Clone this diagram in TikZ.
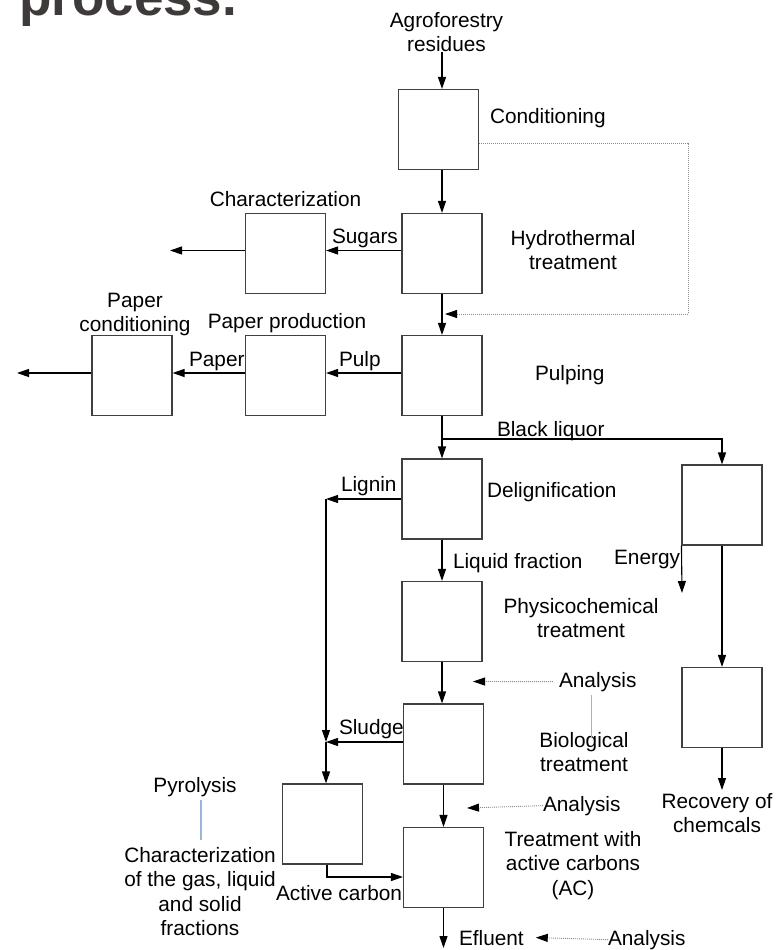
\documentclass[tikz,border=0pt]{standalone}
\usepackage{fontspec}
\setmainfont{Liberation Sans}
\usetikzlibrary{calc, positioning}
\usetikzlibrary{arrows.meta}

\definecolor{boxgray}{HTML}{404040}
\definecolor{titlegray}{HTML}{3D3A39}
\definecolor{dotgray}{HTML}{8C8C8C}
\definecolor{linkblue}{HTML}{9BB5DA}

\begin{document}
\begin{tikzpicture}[x=1pt,y=-1pt,
    unit/.style={draw=boxgray, line width=1.1pt, minimum width=80pt, minimum height=80pt, inner sep=0pt},
    lbl/.style={inner sep=0pt, outer sep=0pt, font=\fontsize{20.8}{24.5}\selectfont},
    flow/.style={line width=1.1pt, black, -{Triangle[length=12pt,width=8pt]}},
    dotflow/.style={line width=0.9pt, dotgray, dash pattern=on 1pt off 1pt, -{Triangle[length=12pt,width=8pt,black]}},
    link/.style={linkblue, line width=1.3pt}]
\clip (0,0) rectangle (776,950);

% Process units
\node[unit] (cond)    at (438.5,129.5) {};
\node[unit] (hydro)   at (442,253.5) {};
\node[unit] (charz)   at (285.5,253.5) {};
\node[unit] (pulp)    at (442,375.5) {};
\node[unit] (paprod)  at (285.5,375.5) {};
\node[unit] (papcond) at (132,375.5) {};
\node[unit] (delig)   at (442,499) {};
\node[unit] (recov1)  at (722,505) {};
\node[unit] (physico) at (442,621.5) {};
\node[unit] (recov2)  at (722,707.5) {};
\node[unit] (bio)     at (443.5,744) {};
\node[unit] (pyro)    at (322.5,824) {};
\node[unit] (treat)   at (443.5,867.5) {};

% Free ends and junctions
\coordinate (recyc)  at (688,314);
\coordinate (recend) at (445,314);
\coordinate (sugout) at (170,250.5);
\coordinate (papout) at (17,373);
\coordinate (blk)    at (442,439);
\coordinate (enout)  at (682,593);
\coordinate (recout) at (722,790);
\coordinate (lig)    at (326,499);
\coordinate (sld)    at (326,742);
\coordinate (in1)    at (473,681.5);
\coordinate (in2)    at (467,808);
\coordinate (effout) at (443.5,948);

% Title fragment
\node[anchor=base west, inner sep=0pt, text=titlegray,
    font=\fontsize{53}{53}\selectfont\bfseries] (title) at (19,15.5) {process.};

% Labels
\node[lbl, anchor=north, align=center] (agro) at (446.5,12) {Agroforestry\\residues};
\node[lbl, anchor=base west] (condtxt) at (490,123) {Conditioning};
\node[lbl, anchor=north, align=center] (hydrotxt) at (573,230) {Hydrothermal\\treatment};
\node[lbl, anchor=base] (charztxt) at (285.5,206) {Characterization};
\node[lbl, anchor=base west] (sugtxt) at (332,243) {Sugars};
\node[lbl, anchor=north, align=center] (papcondtxt) at (135,293) {Paper\\conditioning};
\node[lbl, anchor=base] (paprodtxt) at (287,328) {Paper production};
\node[lbl, anchor=base west] (pulptxt) at (339,366) {Pulp};
\node[lbl, anchor=base west] (papertxt) at (189,366) {Paper};
\node[lbl, anchor=base west] (pulpingtxt) at (535,380) {Pulping};
\node[lbl, anchor=base west] (bltxt) at (497,436) {Black liquor};
\node[lbl, anchor=base west] (deligtxt) at (487,497) {Delignification};
\node[lbl, anchor=base west] (lignintxt) at (341,491) {Lignin};
\node[lbl, anchor=base west] (liqtxt) at (453,568) {Liquid fraction};
\node[lbl, anchor=base east] (energytxt) at (680,564) {Energy};
\node[lbl, anchor=north, align=center] (physicotxt) at (581,598) {Physicochemical\\treatment};
\node[lbl, anchor=base west] (ana1) at (559,687) {Analysis};
\node[lbl, anchor=base west] (sludgetxt) at (339,734) {Sludge};
\node[lbl, anchor=north, align=center] (biotxt) at (584,732) {Biological\\treatment};
\node[lbl, anchor=base west] (ana2) at (543,811) {Analysis};
\node[lbl, anchor=base] (pyrotxt) at (195,792) {Pyrolysis};
\node[lbl, anchor=north, align=center] (gastxt) at (200,847) {Characterization\\of the gas, liquid\\and solid\\fractions};
\node[lbl, anchor=base west] (actxt) at (276,900) {Active carbon};
\node[lbl, anchor=north, align=center] (treattxt) at (573,831) {Treatment with\\active carbons\\(AC)};
\node[lbl, anchor=north, align=center] (recovtxt) at (717,793) {Recovery of\\chemcals};
\node[lbl, anchor=base west] (eflu) at (459,945) {Efluent};
\node[lbl, anchor=base west] (ana3) at (608,945) {Analysis};

% Main line
\draw[flow] (agro.south -| hydro.north) -- (cond.north -| hydro.north);
\draw[flow] (cond.south -| hydro.north) -- (hydro.north);
\draw[flow] (hydro.south) -- (pulp.north);
\draw[flow] (pulp.south) -- (delig.north);
\draw[flow] (delig.south) -- (physico.north);
\draw[flow] (physico.south) -- (physico.south |- bio.north);
\draw[flow] (bio.south) -- (treat.north);
\draw[flow] (treat.south) -- (effout);

% Recycle loop
\draw[dotflow] ([yshift=-13.5pt]cond.east) -| (recyc) -- (recend);

% Side streams
\draw[flow] ([yshift=3pt]hydro.west) -- ([yshift=3pt]charz.east);
\draw[flow] ([yshift=3pt]charz.west) -- (sugout);
\draw[flow] ([yshift=2.5pt]pulp.west) -- ([yshift=2.5pt]paprod.east);
\draw[flow] ([yshift=2.5pt]paprod.west) -- ([yshift=2.5pt]papcond.east);
\draw[flow] ([yshift=2.5pt]papcond.west) -- (papout);

% Black liquor branch
\draw[flow] (blk) -| (recov1.north);
\draw[flow] (recov1.south west) -- (enout);
\draw[flow] (recov1.south) -- (recov2.north);
\draw[flow] (recov2.south) -- (recout);

% Lignin, sludge and active carbon
\draw[flow] (delig.west) -- (lig);
\draw[flow] (lig) -- (sld);
\draw[flow] ([yshift=2pt]bio.west) -- (sld);
\draw[flow] (sld) -- (sld |- pyro.north);
\draw[flow] ([xshift=4.5pt]pyro.south) |- ([yshift=-9.5pt]treat.west);

% Analysis points
\draw[dotflow] ([xshift=-6pt]ana1.west) -- (in1);
\draw[dotflow] (ana2.west) -- (in2);
\draw[dotflow] (ana3.west) -- ([xshift=12pt]eflu.east);

% Notes
\draw[link] ([xshift=-6pt,yshift=-3.5pt]ana1.south) -- ++(0,42);
\draw[link] ([xshift=6pt,yshift=-4pt]pyrotxt.south) -- ++(0,40);
\end{tikzpicture}
\end{document}
